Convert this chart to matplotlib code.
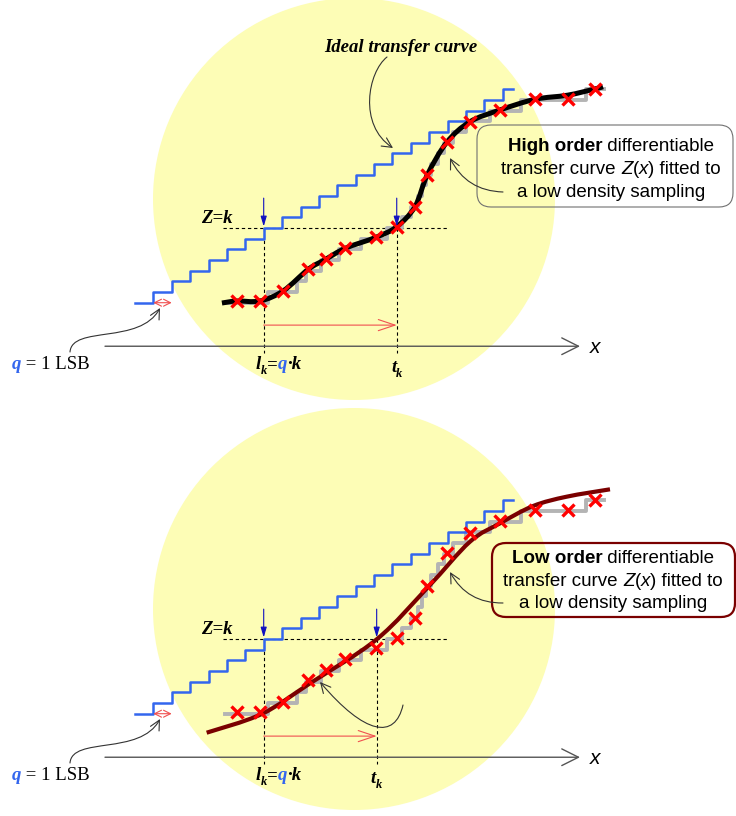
"""
ADC transfer curve sketch: ideal staircase vs. a sparsely sampled real staircase,
fitted with a high order (top) and a low order (bottom) differentiable curve.
Output: out.png (736x816)
"""
import numpy as np
import matplotlib; matplotlib.use("Agg"); import matplotlib.pyplot as plt
from matplotlib.patches import Circle, FancyBboxPatch, FancyArrowPatch, PathPatch
from matplotlib.path import Path
from matplotlib.transforms import offset_copy

# ---- data (u = input in LSB, z = output code) ----
IDEAL_RISE_U = [0, 1, 2, 3, 4, 5, 6, 7, 8, 9, 10, 11, 12, 13, 14, 15, 16, 17, 18, 19, 20]
IDEAL_LEVELS = [0, 1, 2, 3, 4, 5, 6, 7, 8, 9, 10, 11, 12, 13, 14, 15, 16, 17, 18, 19, 20]
IDEAL_END_U = 20.55

GRAY_RISE_U = [4.9, 7.25, 8.8, 9.3, 10.1, 11.1, 12.3, 13.7, 14.5, 15.0, 15.4,
               15.6, 15.8, 16.1, 16.5, 16.8, 17.3, 18.0, 19.3, 21.0, 24.5]
GRAY_LEVELS = IDEAL_LEVELS
GRAY_END_U = 25.5

SAMPLE_U = [5.53, 6.80, 8.07, 9.42, 10.37, 11.43, 13.10, 14.23, 15.22, 15.89,
            16.95, 18.21, 19.84, 21.74, 23.52, 25.0]
SAMPLE_Z = [0.16, 0.16, 1.12, 3.13, 4.07, 5.10, 6.13, 7.12, 9.0, 11.97,
            15.03, 16.96, 18.06, 19.06, 19.06, 20.03]

HIGH_U = [4.73, 5.53, 6.80, 8.07, 9.42, 10.37, 11.43, 13.10, 14.23, 15.22, 15.89,
          16.95, 18.21, 19.84, 21.74, 23.52, 25.0, 25.44]
HIGH_Z = [-0.03, 0.16, 0.16, 1.12, 3.13, 4.07, 5.10, 6.13, 7.12, 9.0, 11.97,
          15.03, 16.96, 18.06, 19.06, 19.45, 20.03, 20.24]

LOW_U = [3.90, 6.89, 9.52, 13.14, 15.95, 18.21, 19.84, 21.65, 23.47, 25.82]
LOW_Z = [-1.78, -0.03, 2.85, 6.97, 11.9, 16.12, 17.84, 19.47, 20.34, 21.03]

K = 7                 # Z = k
T_HIGH = 14.23        # t_k for the high order fit
T_LOW = 13.14         # t_k for the low order fit

# ---- layout (pixel mapping of the u/z coordinates) ----
W, H = 736, 816
X0, DX = 134.9, 18.4          # px of u=0, px per LSB
Y0_TOP, Y0_BOT, DY = 302.7, 713.7, 10.67

BLUE = "#3366ee"
YELLOW = "#fdfdb6"
SERIF = "Liberation Serif"
SANS = "Liberation Sans"
FS = 13.5


def smooth_path(xs, ys):
    pts = np.column_stack([xs, ys])
    verts, codes = [pts[0]], [Path.MOVETO]
    for i in range(len(pts) - 1):
        p0 = pts[i - 1] if i > 0 else pts[i]
        p1, p2 = pts[i], pts[i + 1]
        p3 = pts[i + 2] if i + 2 < len(pts) else pts[i + 1]
        verts += [p1 + (p2 - p0) / 6, p2 - (p3 - p1) / 6, p2]
        codes += [Path.CURVE4] * 3
    return Path(verts, codes)


def rich(ax, x, y, pieces, ha="left", **common):
    """Draw text pieces with different styles side by side on one baseline."""
    fig = ax.figure
    r = fig.canvas.get_renderer()
    items = []
    for s, kw in pieces:
        kw = dict(common, **kw)
        dy = kw.pop("dy", 0)
        t1 = ax.text(0, 0, "|" + s + "|", **kw); w1 = t1.get_window_extent(r).width; t1.remove()
        t2 = ax.text(0, 0, "||", **kw); w2 = t2.get_window_extent(r).width; t2.remove()
        items.append((s, kw, dy, w1 - w2))
    total = sum(it[3] for it in items)
    off = {"left": 0, "center": -total / 2, "right": -total}[ha]
    for s, kw, dy, w in items:
        tr = offset_copy(ax.transData, fig=fig, x=off, y=dy, units="dots")
        ax.text(x, y, s, transform=tr, ha="left", va="baseline", **kw)
        off += w


def draw_panel(ax, cu, cz, ccol, clw, t_k):
    ax.set_xlim(-X0 / DX, (W - X0) / DX)
    ax.axis("off")
    dash = dict(color="black", lw=0.8, ls=(0, (3, 2.5)), zorder=2)
    ax.plot([(223 - X0) / DX, (448 - X0) / DX], [K, K], **dash)
    ax.plot([K, K], [K, -4.75], **dash)
    ax.plot([t_k, t_k], [K, -4.75], **dash)

    ax.plot(GRAY_RISE_U + [GRAY_END_U], GRAY_LEVELS + [GRAY_LEVELS[-1]],
            drawstyle="steps-post", color="#b4b4b4", lw=2.8, zorder=3)
    ax.plot(IDEAL_RISE_U + [IDEAL_END_U], IDEAL_LEVELS + [IDEAL_LEVELS[-1]],
            drawstyle="steps-post", color=BLUE, lw=1.8, zorder=3)
    ax.add_patch(PathPatch(smooth_path(cu, cz), fill=False, ec=ccol, lw=clw,
                           capstyle="butt", zorder=4))
    ax.plot(SAMPLE_U, SAMPLE_Z, "x", ms=9, mew=2.4, color="#ff0000", zorder=6)

    for u in (K, t_k):
        ax.annotate("", xy=(u, K + 0.15), xytext=(u, K + 2.8),
                    arrowprops=dict(arrowstyle="-|>,head_length=0.5,head_width=0.15",
                                    color="#1010c0", lw=0.8, shrinkA=0, shrinkB=0,
                                    mutation_scale=12), zorder=7)
    ax.annotate("", xy=(t_k, -2.1), xytext=(K, -2.1),
                arrowprops=dict(arrowstyle="->,head_length=0.6,head_width=0.2",
                                color="#f05050", lw=0.8, shrinkA=0, shrinkB=0,
                                mutation_scale=20))
    ax.annotate("", xy=(2, 0), xytext=(1, 0),
                arrowprops=dict(arrowstyle="<->,head_length=0.5,head_width=0.25",
                                color="#f05050", lw=0.8, shrinkA=0, shrinkB=0,
                                mutation_scale=10), zorder=7)
    # x axis
    ax.annotate("", xy=((580 - X0) / DX, -4.08), xytext=((105 - X0) / DX, -4.08),
                arrowprops=dict(arrowstyle="->,head_length=0.6,head_width=0.3",
                                color="#555555", lw=1.0, shrinkA=0, shrinkB=0,
                                mutation_scale=20))
    ax.text(24.7, -4.75, "x", family=SANS, style="italic", fontsize=15, va="baseline")

    bi = dict(family=SERIF, weight="bold", style="italic")
    ax.text(5.28, 7.5, "Z=k", ha="right", va="baseline", fontsize=FS, **bi)
    rich(ax, K - 0.43, -6.2, [("l", {}), ("k", dict(fontsize=9, dy=-5)), ("=", {}),
                              ("q", dict(color=BLUE)), ("·k", {})], fontsize=FS, **bi)
    rich(ax, t_k, -6.5, [("t", {}), ("k", dict(fontsize=9, dy=-5))],
         ha="center", fontsize=FS, **bi)
    rich(ax, -2.44, -6.2, [("q", dict(color=BLUE, **bi)), (" = 1 LSB", dict(family=SERIF))],
         ha="right", fontsize=FS)


fig = plt.figure(figsize=(W / 100, H / 100), dpi=100)

bg = fig.add_axes([0, 0, 1, 1])
bg.set_xlim(0, W); bg.set_ylim(H, 0); bg.axis("off")
bg.add_patch(Circle((354, 199), 201, fc=YELLOW, ec="none"))
bg.add_patch(Circle((354, 609), 201, fc=YELLOW, ec="none"))

ax_top = fig.add_axes([0, 0.5, 1, 0.5])
ax_top.set_ylim((Y0_TOP - 408) / DY, Y0_TOP / DY)
draw_panel(ax_top, HIGH_U, HIGH_Z, "black", 3.6, T_HIGH)

ax_bot = fig.add_axes([0, 0, 1, 0.5])
ax_bot.set_ylim((Y0_BOT - H) / DY, (Y0_BOT - 408) / DY)
draw_panel(ax_bot, LOW_U, LOW_Z, "#7a0000", 3.0, T_LOW)

# ---- annotations in pixel coordinates ----
fg = fig.add_axes([0, 0, 1, 1])
fg.set_xlim(0, W); fg.set_ylim(H, 0); fg.axis("off")
con = dict(arrowstyle="->,head_length=0.5,head_width=0.25", mutation_scale=14,
           lw=0.8, color="#333333", shrinkA=0, shrinkB=0)
C4 = [Path.MOVETO, Path.CURVE4, Path.CURVE4, Path.CURVE4]

fg.text(401, 51.7, "Ideal transfer curve", family=SERIF, weight="bold", style="italic",
        fontsize=FS, ha="center", va="baseline")
fg.add_patch(FancyArrowPatch(path=Path([(387, 57), (368, 72), (358, 125), (393, 148)], C4), **con))

for dy in (0, 411):
    fg.add_patch(FancyArrowPatch(
        path=Path([(70, 352 + dy), (72, 325 + dy), (140, 345 + dy), (160, 308 + dy)], C4), **con))

fg.add_patch(FancyArrowPatch(path=Path([(403, 705), (395, 740), (365, 735), (320, 682)], C4), **con))

fg.add_patch(FancyBboxPatch((477, 125), 256, 82, boxstyle="round,pad=0,rounding_size=14",
                            fc="none", ec="#707070", lw=0.8))
fg.add_patch(FancyArrowPatch(posA=(503, 192), posB=(450, 158),
                             connectionstyle="arc3,rad=-0.3", **con))
fg.add_patch(FancyBboxPatch((492, 543), 243, 74, boxstyle="round,pad=0,rounding_size=14",
                            fc="none", ec="#7a0000", lw=1.6))
fg.add_patch(FancyArrowPatch(posA=(503, 603), posB=(450, 572),
                             connectionstyle="arc3,rad=-0.3", **con))

for first, cx, ys in (("High order", 611, (151, 174, 197)), ("Low order", 613, (563, 586, 608))):
    rich(fg, cx, ys[0], [(first, dict(weight="bold")), (" differentiable", {})],
         ha="center", family=SANS, fontsize=FS)
    rich(fg, cx, ys[1], [("transfer curve ", {}), ("Z", dict(style="italic")), ("(", {}),
                         ("x", dict(style="italic")), (") fitted to", {})],
         ha="center", family=SANS, fontsize=FS)
    rich(fg, cx, ys[2], [("a low density sampling", {})], ha="center", family=SANS, fontsize=FS)

fig.savefig("out.png", dpi=100)
